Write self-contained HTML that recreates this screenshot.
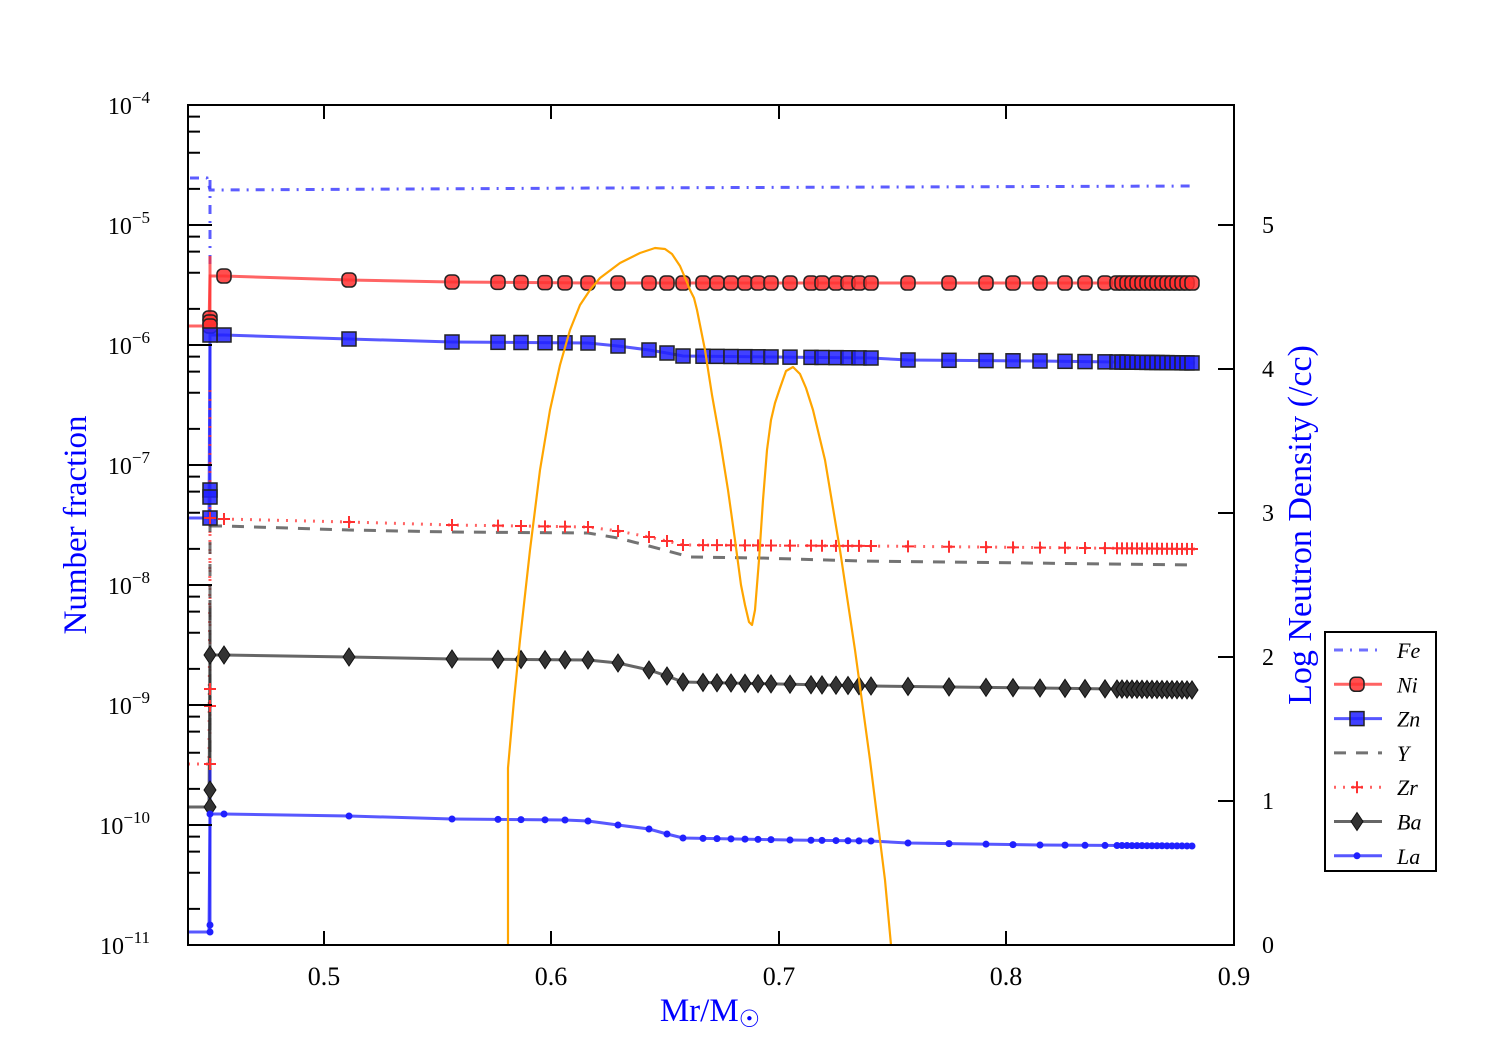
<!DOCTYPE html>
<html><head><meta charset="utf-8"><style>body{margin:0;background:#fff}svg{display:block}</style></head>
<body>
<svg id="s" width="1500" height="1050" xmlns="http://www.w3.org/2000/svg" font-family="Liberation Serif, serif">
<g id="data"></g>
<rect x="188" y="105" width="1046" height="840" fill="none" stroke="#000" stroke-width="2"/>
<g id="ticks" stroke="#000" stroke-width="2"></g>
<g font-size="26" fill="#000" text-anchor="middle">
<text x="324" y="985">0.5</text><text x="551" y="985">0.6</text><text x="779" y="985">0.7</text><text x="1006" y="985">0.8</text><text x="1234" y="985">0.9</text>
</g>
<g font-size="24" fill="#000" text-anchor="start" id="rlab">
<text x="1262" y="953">0</text><text x="1262" y="809">1</text><text x="1262" y="665">2</text><text x="1262" y="521">3</text><text x="1262" y="377">4</text><text x="1262" y="233">5</text>
</g>
<g font-size="24" fill="#000" text-anchor="end" id="llab"></g>
<text x="710" y="1021" font-size="33" fill="#0000ff" text-anchor="middle">Mr/M<tspan font-size="24" dy="6">☉</tspan></text>
<text transform="translate(86,525) rotate(-90)" font-size="33" fill="#0000ff" text-anchor="middle">Number fraction</text>
<text transform="translate(1311,525) rotate(-90)" font-size="34" fill="#0000ff" text-anchor="middle">Log Neutron Density (/cc)</text>
<g id="leg"><rect x="1325" y="632" width="111" height="239" fill="#fff" stroke="#000" stroke-width="2"/></g>
</svg>
<script>
const NS="http://www.w3.org/2000/svg";
function el(p,t,a){const e=document.createElementNS(NS,t);for(const k in a)e.setAttribute(k,a[k]);p.appendChild(e);return e;}
const D=document.getElementById('data'),T=document.getElementById('ticks'),LL=document.getElementById('llab');
const xs=[324,551,779,1006,1234];
for(const x of xs){el(T,'line',{x1:x,y1:945,x2:x,y2:931});el(T,'line',{x1:x,y1:105,x2:x,y2:119});}
for(let d=0;d<=7;d++){const y=105+d*120;
 el(T,'line',{x1:188,y1:y,x2:212,y2:y});
 if(d<7)for(const m of [2,4,6,8]){const yy=y+120-120*Math.log10(m);el(T,'line',{x1:188,y1:yy,x2:200,y2:yy});}
 const t=el(LL,'text',{x:150,y:y+9});t.textContent='10';const s=el(t,'tspan',{dy:-11,'font-size':17});s.textContent='−'+(4+d);
}
for(let v=0;v<=5;v++){const y=945-144*v;el(T,'line',{x1:1234,y1:y,x2:1218,y2:y});}
function interp(pts,x){for(let i=0;i<pts.length-1;i++){if(x<=pts[i+1][0]){const[a,b]=pts[i],[c,d]=pts[i+1];return b+(d-b)*(x-a)/(c-a);}}return pts[pts.length-1][1];}
function pstr(p){return p.map(q=>q.join(',')).join(' ');}
const mx=[224,349,452,498,521,545,565,588,618,649,667,683,703,717,731,745,758,771,790,811,822,836,848,859,871,908,949,986,1013,1040,1065,1085,1105];
for(let x=1117;x<=1192;x+=5)mx.push(x);
const end=1195;
el(D,'polyline',{points:pstr([[190,178],[207,178],[210,190],[215,190],[600,188],[end,186]]),fill:'none',stroke:'#4040ff','stroke-width':3,'stroke-dasharray':'9,7,2,7',opacity:.85});
el(D,'polyline',{points:pstr([[210,180],[210,265]]),fill:'none',stroke:'#4040ff','stroke-width':3,'stroke-dasharray':'9,7,2,7',opacity:.85});
const series=[
 {c:'#ff3030',pre:326,sp:[[210,256],[210,330]],pts:[[224,276],[349,280],[452,282],[588,283],[end,283]],m:'o',extra:[318,322,326]},
 {c:'#2020ff',pre:518,sp:[[210,345],[210,520]],pts:[[224,335],[349,339],[452,342],[588,343],[618,346],[649,350],[667,353],[683,356],[871,358],[908,360],[1040,361],[end,363]],m:'s',extra:[490,497,518,335]},
 {c:'#ff3030',pre:764,sp:[[210,390],[210,770]],pts:[[224,519],[349,522],[452,525],[588,527],[618,531],[649,537],[667,541],[683,545],[871,546],[end,549]],m:'+',dash:'2,7',extra:[689,706,764,518]},
 {c:'#444',pre:null,sp:[[210,520],[210,760]],pts:[[210,526],[224,526],[349,530],[452,532],[588,533],[618,538],[649,546],[690,557],[760,558],[860,561],[end,565]],m:null,dash:'12,10'},
 {c:'#333',pre:807,sp:[[210,600],[210,810]],pts:[[224,655],[349,657],[452,659],[588,660],[618,663],[649,670],[667,676],[683,682],[871,686],[1040,688],[end,690]],m:'d',extra:[655,790,807]},
 {c:'#2020ff',pre:932,sp:[[210,770],[210,932]],pts:[[224,814],[349,816],[452,819],[565,820],[588,821],[618,825],[649,829],[667,834],[683,838],[790,840],[871,841],[908,843],[1040,845],[end,846]],m:'.',extra:[925,932,814]}
];
function mark(m,x,y,c,P){P=P||D;
 if(m==='o')el(P,'rect',{x:x-7,y:y-7,width:14,height:14,rx:5,fill:c,stroke:'#222','stroke-width':1.5,'fill-opacity':.85});
 else if(m==='s')el(P,'rect',{x:x-7,y:y-7,width:14,height:14,fill:c,stroke:'#222','stroke-width':1.5,'fill-opacity':.85});
 else if(m==='+'){el(P,'path',{d:`M${x-6},${y}h12M${x},${y-6}v12`,stroke:c,'stroke-width':2});}
 else if(m==='d')el(P,'polygon',{points:`${x},${y-9} ${x+6},${y} ${x},${y+9} ${x-6},${y}`,fill:'#333',stroke:'#111','stroke-width':1});
 else if(m==='.')el(P,'circle',{cx:x,cy:y,r:3.5,fill:c});
}
for(const s of series){
 const o={fill:'none',stroke:s.c,'stroke-width':3,opacity:.75};if(s.dash)o['stroke-dasharray']=s.dash;
 let pts=s.pts.slice();
 if(s.pre!==null){pts=[[188,s.pre],[209,s.pre],[210,s.pts[0][1]]].concat(pts);}
 el(D,'polyline',Object.assign({points:pstr(pts)},o));
 el(D,'polyline',Object.assign({points:pstr(s.sp)},o));
}
for(const s of series){if(!s.m)continue;
 for(const x of mx)mark(s.m,x,interp(s.pts,x),s.c);
 for(const y of s.extra||[])mark(s.m,210,y,s.c);
}
const op=[[508,945],[508,768],[514,700],[520,640],[530,550],[540,470],[550,410],[560,365],[570,330],[580,305],[590,290],[600,278],[620,263],[640,253],[655,248],[665,249],[672,254],[680,266],[686,280],[690,290],[694,298],[697,310],[705,350],[712,395],[720,440],[728,490],[735,540],[741,585],[745,605],[749,622],[752,625],[755,610],[759,560],[763,500],[767,450],[771,420],[775,403],[780,388],[786,371],[793,367],[800,374],[806,388],[813,410],[825,460],[840,550],[855,650],[870,760],[885,880],[891,945]];
el(D,'polyline',{points:pstr(op),fill:'none',stroke:'#ffa500','stroke-width':2.2,'stroke-linejoin':'round'});
const G=document.getElementById('leg');
const names=['Fe','Ni','Zn','Y','Zr','Ba','La'];
const lc=[['#4040ff','9,7,2,7',null],['#ff3030',null,'o'],['#2020ff',null,'s'],['#444','12,10',null],['#ff3030','2,7','+'],['#333',null,'d'],['#2020ff',null,'.']];
names.forEach((n,i)=>{const y=650+i*34.3;const o={x1:1334,y1:y,x2:1382,y2:y,stroke:lc[i][0],'stroke-width':3,opacity:.75};if(lc[i][1])o['stroke-dasharray']=lc[i][1];
 el(G,'line',o);
 if(lc[i][2])mark(lc[i][2],1357,y,lc[i][0],G);
 const t=el(G,'text',{x:1397,y:y+8,'font-size':22,'font-style':'italic',fill:'#000'});t.textContent=n;});
</script>
</body></html>
